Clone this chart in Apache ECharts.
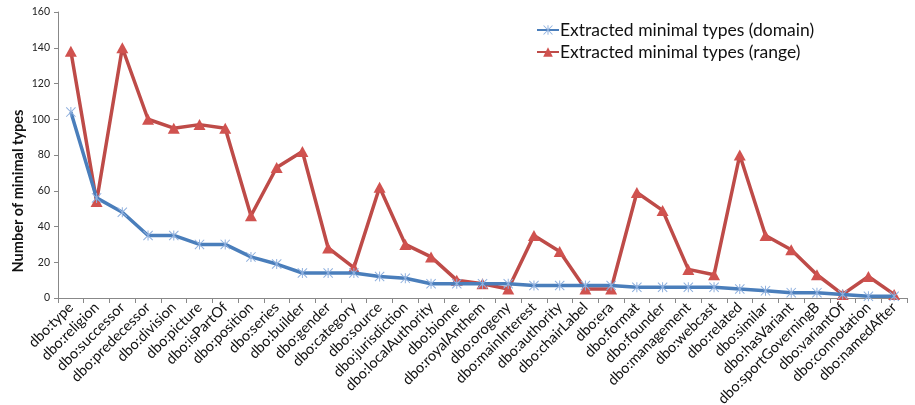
<!DOCTYPE html>
<html><head><meta charset="utf-8">
<script src="https://cdn.jsdelivr.net/npm/echarts@6/dist/echarts.min.js"></script>
<style>html,body{margin:0;padding:0;background:#fff}#c{width:915px;height:405px}</style>
</head><body><div id="c"></div>
<script>
var categories = ['dbo:type','dbo:religion','dbo:successor','dbo:predecessor','dbo:division','dbo:picture','dbo:isPartOf','dbo:position','dbo:series','dbo:builder','dbo:gender','dbo:category','dbo:source','dbo:jurisdiction','dbo:localAuthority','dbo:biome','dbo:royalAnthem','dbo:orogeny','dbo:mainInterest','dbo:authority','dbo:chairLabel','dbo:era','dbo:format','dbo:founder','dbo:management','dbo:webcast','dbo:related','dbo:similar','dbo:hasVariant','dbo:sportGoverningB','dbo:variantOf','dbo:connotation','dbo:namedAfter'];
var domainValues = [104,56,48,35,35,30,30,23,19,14,14,14,12,11,8,8,8,8,7,7,7,7,6,6,6,6,5,4,3,3,2,1,1];
var rangeValues = [138,54,140,100,95,97,95,46,73,82,28,17,62,30,23,10,8,5,35,26,5,5,59,49,16,13,80,35,27,13,2,12,2];
var seriesNames = ['Extracted minimal types (domain)','Extracted minimal types (range)'];
var yTicks = {min:0, max:160, interval:20};
var yTitle = 'Number of minimal types';

var starPath = 'path://M9,0 L11,0 L11,20 L9,20 Z M0,1.4 L1.4,0 L20,18.6 L18.6,20 Z M18.6,0 L20,1.4 L1.4,20 L0,18.6 Z';
var FONT = 'Lato';
var chart = echarts.init(document.getElementById('c'));
chart.setOption({
  animation:false,
  textStyle:{fontFamily:FONT},
  grid:{left:58,right:8,top:12,bottom:107,containLabel:false,outerBoundsMode:'none'},
  legend:{
    orient:'vertical', left:531, top:16, itemGap:4, itemWidth:22, itemHeight:12,
    textStyle:{fontFamily:FONT,fontSize:17.5,color:'#111',padding:[0,0,0,-4]},
    data:seriesNames
  },
  graphic:[{type:'text',
    style:{text:yTitle, font:'bold 14.5px '+FONT, fill:'#111', textAlign:'center', textVerticalAlign:'middle'},
    x:18, y:191, rotation:Math.PI/2}],
  xAxis:{
    type:'category', data:categories, boundaryGap:true,
    axisLine:{lineStyle:{color:'#888',width:1}},
    axisTick:{show:true,interval:0,length:5,lineStyle:{color:'#888'}},
    axisLabel:{interval:0, rotate:45, fontFamily:FONT, fontSize:14.5, color:'#111', margin:7}
  },
  yAxis:{
    type:'value', min:yTicks.min, max:yTicks.max, interval:yTicks.interval,
    splitLine:{show:false},
    axisLine:{show:true,lineStyle:{color:'#888',width:1}},
    axisTick:{show:true,length:4,lineStyle:{color:'#888'}},
    axisLabel:{fontFamily:FONT,fontSize:10.5,color:'#222',margin:8}
  },
  series:[
    {name:seriesNames[0], type:'line', data:domainValues, symbol:starPath, symbolSize:10,
     lineStyle:{color:'#4a7ebb',width:3.5}, itemStyle:{color:'#8fb0de'}, z:3},
    {name:seriesNames[1], type:'line', data:rangeValues, symbol:'triangle', symbolSize:[12,11],
     lineStyle:{color:'#be4b48',width:3.5}, itemStyle:{color:'#d0524f'}, z:2}
  ]
});
</script></body></html>
